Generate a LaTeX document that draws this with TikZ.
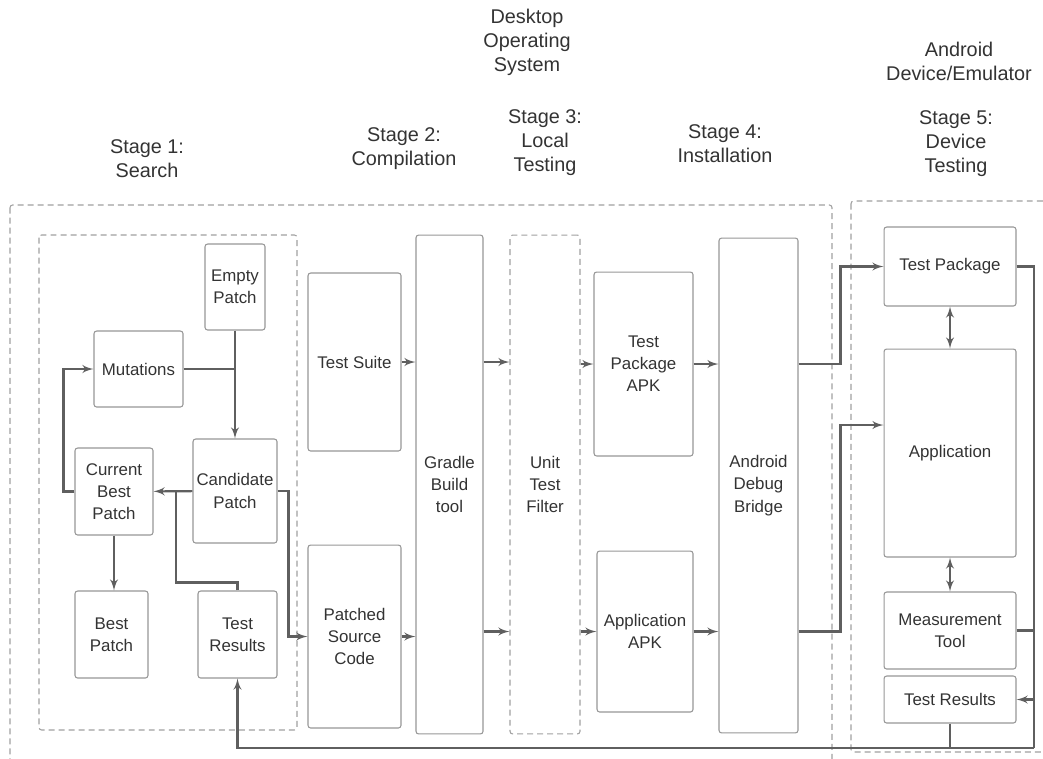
\documentclass[tikz,border=0pt]{standalone}
\usepackage{fontspec}
\setmainfont{Liberation Sans}
\definecolor{BoxGray}{RGB}{150,150,150}
\definecolor{DashGray}{RGB}{160,160,160}
\definecolor{LineGray}{RGB}{95,95,95}
\definecolor{TextGray}{RGB}{51,51,51}
\usetikzlibrary{arrows, positioning}

\begin{document}
\begin{tikzpicture}[x=0.02cm, y=-0.02cm, text=TextGray]
  \tikzstyle{block} = [rectangle, draw=BoxGray, line width=0.6pt, text=TextGray, align=center, rounded corners=1.5pt, inner sep=1pt, font=\fontsize{9.6}{12.6}\selectfont]
  \tikzstyle{filterblock} = [block, draw=DashGray, dash pattern=on 3.4pt off 2.3pt]
  \tikzstyle{line} = [draw=LineGray, -latex', line width=1.2pt]
  \tikzstyle{twoway} = [draw=LineGray, latex'-latex', line width=1.2pt]
  \tikzstyle{wire} = [draw=LineGray, line width=1.2pt]
  \tikzstyle{groupbox} = [draw=DashGray, dash pattern=on 3.4pt off 2.3pt, line width=0.6pt, rounded corners=1.5pt]
  \tikzstyle{stagelabel} = [align=center, text=TextGray, font=\fontsize{11.3}{13.7}\selectfont]

  \useasboundingbox (0,0) rectangle (1043,758);

  % environments
  \draw [groupbox] (10,205) rectangle (832,775);
  \draw [groupbox] (851,201) rectangle (1060,752);
  \draw [groupbox] (39,235) rectangle (297,730);

  \node [stagelabel] (desktop) at (527,42.5) {Desktop\\Operating\\System};
  \node [stagelabel] (android) at (959,61) {Android\\Device/Emulator};
  \node [stagelabel] (stage1) at (147,159) {Stage 1:\\Search};
  \node [stagelabel] (stage2) at (404,149) {Stage 2:\\Compilation};
  \node [stagelabel] (stage3) at (545,143) {Stage 3:\\Local\\Testing};
  \node [stagelabel] (stage4) at (725,144) {Stage 4:\\Installation};
  \node [stagelabel] (stage5) at (956,143.5) {Stage 5:\\Device\\Testing};

  % stage 1: search
  \node [block, minimum width=1.2cm, minimum height=1.72cm] (empty) at (235,287) {Empty\\Patch};
  \node [block, minimum width=1.78cm, minimum height=1.52cm] (mut) at (138.5,369) {Mutations};
  \node [block, minimum width=1.68cm, minimum height=2.08cm] (cand) at (235,491) {Candidate\\Patch};
  \node [block, minimum width=1.56cm, minimum height=1.74cm] (cur) at (114,491.5) {Current\\Best\\Patch};
  \node [block, minimum width=1.46cm, minimum height=1.74cm] (best) at (111.5,634.5) {Best\\Patch};
  \node [block, minimum width=1.58cm, minimum height=1.74cm] (res) at (237.5,634.5) {Test\\Results};

  % stages 2-4
  \node [block, minimum width=1.86cm, minimum height=3.56cm] (suite) at (354.5,362) {Test Suite};
  \node [block, minimum width=1.86cm, minimum height=3.66cm] (src) at (354.5,636.5) {Patched\\Source\\Code};
  \node [block, minimum width=1.34cm, minimum height=9.98cm] (gradle) at (449.5,484.5) {Gradle\\Build\\tool};
  \node [filterblock, minimum width=1.4cm, minimum height=9.98cm] (filter) at (545,484.5) {Unit\\Test\\Filter};
  \node [block, minimum width=1.98cm, minimum height=3.68cm] (tpapk) at (643.5,364) {Test\\Package\\APK};
  \node [block, minimum width=1.92cm, minimum height=3.22cm] (appapk) at (645,631.5) {Application\\APK};
  \node [block, minimum width=1.58cm, minimum height=9.9cm] (adb) at (758.5,485.5) {Android\\Debug\\Bridge};

  % stage 5: device
  \node [block, minimum width=2.64cm, minimum height=1.58cm] (tp) at (950,266.5) {Test Package};
  \node [block, minimum width=2.64cm, minimum height=4.16cm] (app) at (950,453) {Application};
  \node [block, minimum width=2.64cm, minimum height=1.54cm] (meas) at (950,630.5) {Measurement\\Tool};
  \node [block, minimum width=2.64cm, minimum height=0.94cm] (devres) at (950,699.5) {Test Results};

  \coordinate (cbjoin) at (176,491);
  \coordinate (busR) at (1034,748);

  % search loop
  \path [line] (empty) -- (cand);
  \path [wire] (mut.east) -- (mut.east -| empty.south);
  \path [line] (cand) -- (cur);
  \path [wire] (res.north) -- ++(0,-8) -| (cbjoin);
  \path [line] (cur.west) -- ++(-11,0) |- (mut.west);
  \path [line] (cur.south) -- (cur.south |- best.north);
  \path [line] (cand.east) -- ++(11,0) |- (src.west);

  % desktop pipeline
  \path [line] (suite.east) -- (suite.east -| gradle.west);
  \path [line] (src.east) -- (src.east -| gradle.west);
  \path [line] (gradle.east |- suite.east) -- (filter.west |- suite.east);
  \path [line] (gradle.east |- appapk.west) -- (filter.west |- appapk.west);
  \path [line] (filter.east |- tpapk.west) -- (tpapk.west);
  \path [line] (filter.east |- appapk.west) -- (appapk.west);
  \path [line] (tpapk.east) -- (tpapk.east -| adb.west);
  \path [line] (appapk.east) -- (appapk.east -| adb.west);

  % install on device
  \path [line] (adb.east |- tpapk.east) -- ++(42,0) |- (tp.west);
  \path [line] (adb.east |- appapk.east) -- ++(42,0) |- ([yshift=0.56cm]app.west);
  \path [twoway] (tp) -- (app);
  \path [twoway] (app) -- (meas);

  % results back to search
  \path [wire] (tp.east) -| (busR);
  \path [wire] (meas.east) -- (meas.east -| busR);
  \path [line] (devres.east -| busR) -- (devres.east);
  \path [wire] (devres.south) -- (devres.south |- busR);
  \path [line] (busR) -| (res.south);
\end{tikzpicture}
\end{document}
